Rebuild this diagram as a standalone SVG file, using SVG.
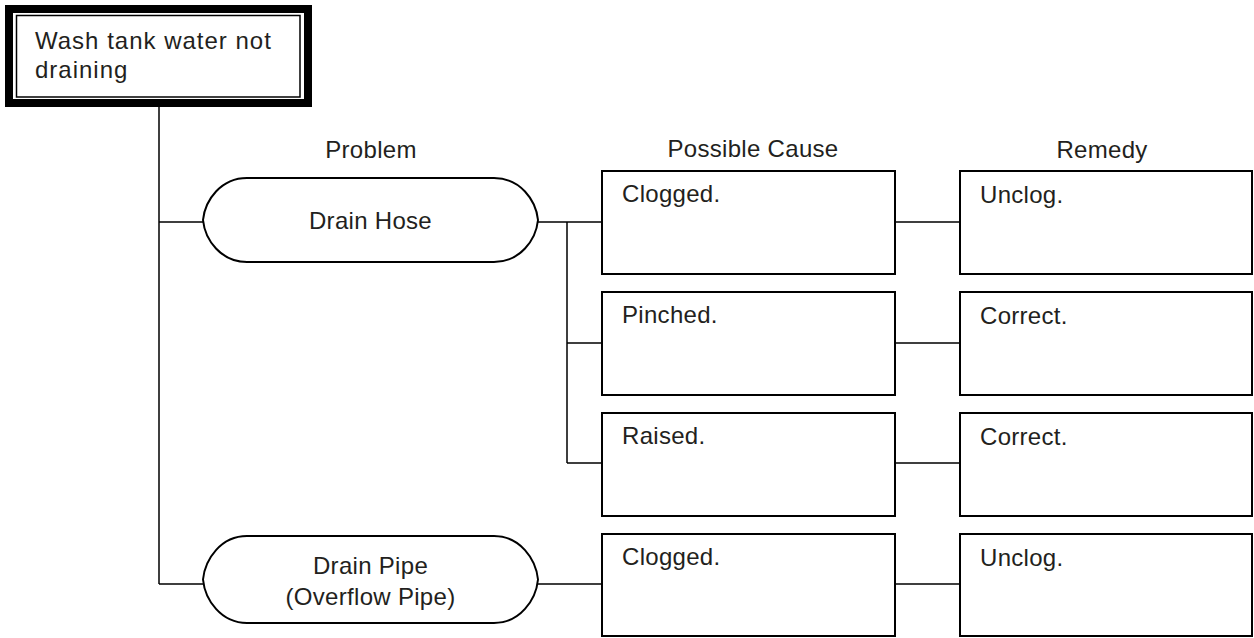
<svg xmlns="http://www.w3.org/2000/svg" width="1254" height="638" viewBox="0 0 1254 638">
<style>
  text { font-family: "Liberation Sans", Arial, sans-serif; font-size: 24px; fill: #231f20; letter-spacing: 0.3px; }
  .c { text-anchor: middle; }
  .box { fill: #ffffff; stroke: #000000; stroke-width: 2; }
  .oval { fill: #ffffff; stroke: #000000; stroke-width: 2; }
  .ln { fill: none; stroke: #000000; stroke-width: 1.5; }
  .title { letter-spacing: 1px; }
</style>
<rect x="0" y="0" width="1254" height="638" fill="#ffffff"/>
<g id="connectors">
  <path class="ln" d="M159,107 V584 M159,222 H203 M159,584 H203"/>
  <path class="ln" d="M538,222 H602 M567,222 V463 M567,343 H602 M567,463 H602 M538,584 H602"/>
  <path class="ln" d="M895,222 H960 M895,343 H960 M895,463 H960 M895,584 H960"/>
</g>
<g id="title">
  <rect x="9" y="9" width="299" height="94" fill="#ffffff" stroke="#000000" stroke-width="8"/>
  <rect x="16.5" y="15.5" width="283.5" height="81.5" fill="none" stroke="#000000" stroke-width="1.5"/>
  <text class="title" x="35" y="49">Wash tank water not</text>
  <text class="title" x="35" y="78">draining</text>
</g>
<g id="headers">
  <text class="c" x="371" y="158">Problem</text>
  <text class="c" x="753" y="157">Possible Cause</text>
  <text class="c" x="1102" y="158">Remedy</text>
</g>
<g id="drain-hose">
  <path class="oval" d="M247,178 H494 C520,178 536,200 538,220 C536,240 520,262 494,262 H247 C221,262 205,240 203,220 C205,200 221,178 247,178 Z"/>
  <text class="c" x="370.5" y="229">Drain Hose</text>
</g>
<g id="drain-pipe">
  <path class="oval" d="M247,536 H494 C520,536 536,559 538,579.5 C536,600 520,623 494,623 H247 C221,623 205,600 203,579.5 C205,559 221,536 247,536 Z"/>
  <text class="c" x="370.5" y="574">Drain Pipe</text>
  <text class="c" x="370.5" y="605">(Overflow Pipe)</text>
</g>
<g id="cause-clogged-1">
  <rect class="box" x="602" y="171" width="293" height="103"/>
  <text x="622" y="202">Clogged.</text>
</g>
<g id="cause-pinched">
  <rect class="box" x="602" y="292" width="293" height="103"/>
  <text x="622" y="323">Pinched.</text>
</g>
<g id="cause-raised">
  <rect class="box" x="602" y="413" width="293" height="103"/>
  <text x="622" y="444">Raised.</text>
</g>
<g id="cause-clogged-2">
  <rect class="box" x="602" y="534" width="293" height="102"/>
  <text x="622" y="565">Clogged.</text>
</g>
<g id="remedy-unclog-1">
  <rect class="box" x="960" y="171" width="292" height="103"/>
  <text x="980" y="203">Unclog.</text>
</g>
<g id="remedy-correct-1">
  <rect class="box" x="960" y="292" width="292" height="103"/>
  <text x="980" y="324">Correct.</text>
</g>
<g id="remedy-correct-2">
  <rect class="box" x="960" y="413" width="292" height="103"/>
  <text x="980" y="445">Correct.</text>
</g>
<g id="remedy-unclog-2">
  <rect class="box" x="960" y="534" width="292" height="102"/>
  <text x="980" y="566">Unclog.</text>
</g>
</svg>
